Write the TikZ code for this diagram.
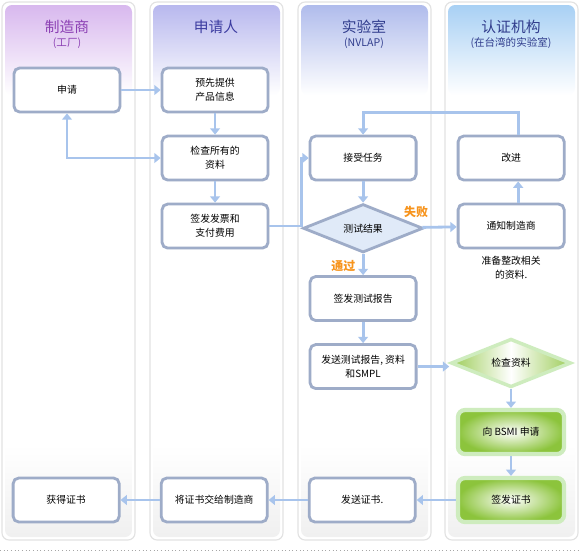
\documentclass[tikz,border=0pt]{standalone}
\usepackage{fontspec}
\setmainfont{Noto Sans CJK SC}
\usetikzlibrary{arrows.meta,positioning,shapes.geometric,shadows}

\definecolor{boxline}{RGB}{158,172,200}
\definecolor{arrowblue}{RGB}{168,196,236}
\definecolor{failorange}{RGB}{247,148,29}
\definecolor{lanegray}{RGB}{226,226,226}
\definecolor{leafgreen}{RGB}{140,196,60}
\definecolor{palegreen}{RGB}{206,236,190}
\definecolor{diafill}{RGB}{224,234,248}
\definecolor{headA}{RGB}{216,184,238}
\definecolor{headB}{RGB}{184,184,238}
\definecolor{headC}{RGB}{176,188,236}
\definecolor{headD}{RGB}{168,208,244}
\definecolor{titleA}{RGB}{140,64,180}
\definecolor{titleB}{RGB}{60,60,160}
\definecolor{titleC}{RGB}{48,60,140}

\tikzset{
  lane/.style={draw=lanegray, line width=0.8pt, rounded corners=5pt, fill=white},
  lanetitle/.style={font=\fontsize{10.5}{12}\selectfont},
  lanesub/.style={font=\fontsize{7.5}{9}\selectfont},
  stepbox/.style={draw=boxline, line width=2pt, rounded corners=4pt, fill=white,
    minimum width=2.65cm, minimum height=1.1cm, align=center, inner sep=1pt,
    drop shadow={opacity=0.15, shadow xshift=0.7pt, shadow yshift=-0.7pt}},
  decision/.style={diamond, draw=boxline, line width=2pt, fill=diafill, inner sep=0pt,
    minimum width=3cm, minimum height=1.1cm},
  greenbox/.style={draw=palegreen, line width=3pt, rounded corners=5pt,
    shading=radial, inner color=white, outer color=leafgreen,
    minimum width=2.65cm, minimum height=1.1cm, align=center},
  greendecision/.style={diamond, draw=palegreen, line width=2.5pt, inner sep=0pt,
    shading=axis, left color=leafgreen!85, right color=leafgreen!85, middle color=white,
    minimum width=3cm, minimum height=1.12cm},
  arr/.style={draw=arrowblue, line width=2pt, -{Triangle[length=4.5pt,width=7pt]}},
  verdict/.style={text=failorange, font=\fontsize{8.5}{10}\selectfont\bfseries}
}

\begin{document}
\begin{tikzpicture}[x=0.025cm, y=-0.025cm, node distance={0.53cm and 0.98cm},
  every node/.style={font=\fontsize{7}{10}\selectfont}]
\useasboundingbox (0,0) rectangle (580,555);

% swim lanes
\foreach \lx/\hc in {2/headA,150/headB,298/headC,445/headD} {
  \draw[lane] (\lx,2) rectangle ++(133,538);
  \shade[rounded corners=5pt, top color=\hc, middle color=\hc!45, bottom color=white] (\lx+3,5) rectangle ++(127,90);
  \shade[rounded corners=5pt, top color=white, bottom color=black!6] (\lx+3,445) rectangle ++(127,92);
}
\draw[black!35, dotted, line width=0.6pt] (0,550) -- (580,550);

% lane headers
\node[lanetitle, text=titleA] (maker) at (67,27) {制造商};
\node[lanesub, text=titleA] (makersub) at (67,43) {(工厂)};
\node[lanetitle, text=titleB] (applicant) at (216,27) {申请人};
\node[lanetitle, text=titleC] (lab) at (364,27) {实验室};
\node[lanesub, text=titleC] (labsub) at (364,43) {(NVLAP)};
\node[lanetitle, text=titleC] (certbody) at (511,27) {认证机构};
\node[lanesub, text=titleC] (certbodysub) at (511,43) {(在台湾的实验室)};

% steps
\node[stepbox] (apply) at (67,90) {申请};
\node[stepbox, right=of apply] (prodinfo) {预先提供\\产品信息};
\node[stepbox, below=of prodinfo] (check) {检查所有的\\资料};
\node[stepbox, below=of check] (invoice) {签发发票和\\支付费用};
\node[stepbox, right=of check] (task) {接受任务};
\node[decision, below=of task] (result) {测试结果};
\node[stepbox, below=of result] (report) {签发测试报告};
\node[stepbox, below=of report] (sendrep) {发送测试报告, 资料\\和SMPL};
\node[stepbox, right=of task] (improve) {改进};
\node[stepbox, below=of improve] (notify) {通知制造商};
\node[below=1pt of notify, align=center] (prepare) {准备整改相关\\的资料.};
\node[greendecision] (checkdoc) at (511,363) {检查资料};
\node[greenbox] (bsmi) at (511,432) {向 BSMI 申请};
\node[greenbox] (issue) at (511,500) {签发证书};
\node[stepbox, left=of issue] (sendcert) {发送证书.};
\node[stepbox, left=of sendcert] (handover) {将证书交给制造商};
\node[stepbox, left=of handover] (obtain) {获得证书};
\node[verdict] (pass) at ([xshift=-14pt,yshift=-8.5pt]result.south) {通过};
\node[verdict] (fail) at ([xshift=-6pt,yshift=11.5pt]result.east) {失败};

% flow
\draw[arr] (apply) -- (prodinfo);
\draw[arr] (prodinfo) -- (check);
\draw[arr, {Triangle[length=4.5pt,width=7pt]}-{Triangle[length=4.5pt,width=7pt]}] (apply.south) |- (check.west);
\draw[arr] (check) -- (invoice);
\draw[arr] (invoice.east) -- ++(32,0) |- (task.west);
\draw[arr] (task) -- (result);
\draw[arr] (result) -- (report);
\draw[arr] (result) -- (notify);
\draw[arr] ([xshift=5pt]notify.north) -- ([xshift=5pt]improve.south);
\draw[arr] ([xshift=5pt]improve.north) -- ++(0,-22) -| (task.north);
\draw[arr] (report) -- (sendrep);
\draw[arr] (sendrep) -- (sendrep -| checkdoc.west);
\draw[arr] (checkdoc) -- (bsmi);
\draw[arr] (bsmi) -- (issue);
\draw[arr] (issue) -- (sendcert);
\draw[arr] (sendcert) -- (handover);
\draw[arr] (handover) -- (obtain);
\end{tikzpicture}
\end{document}
